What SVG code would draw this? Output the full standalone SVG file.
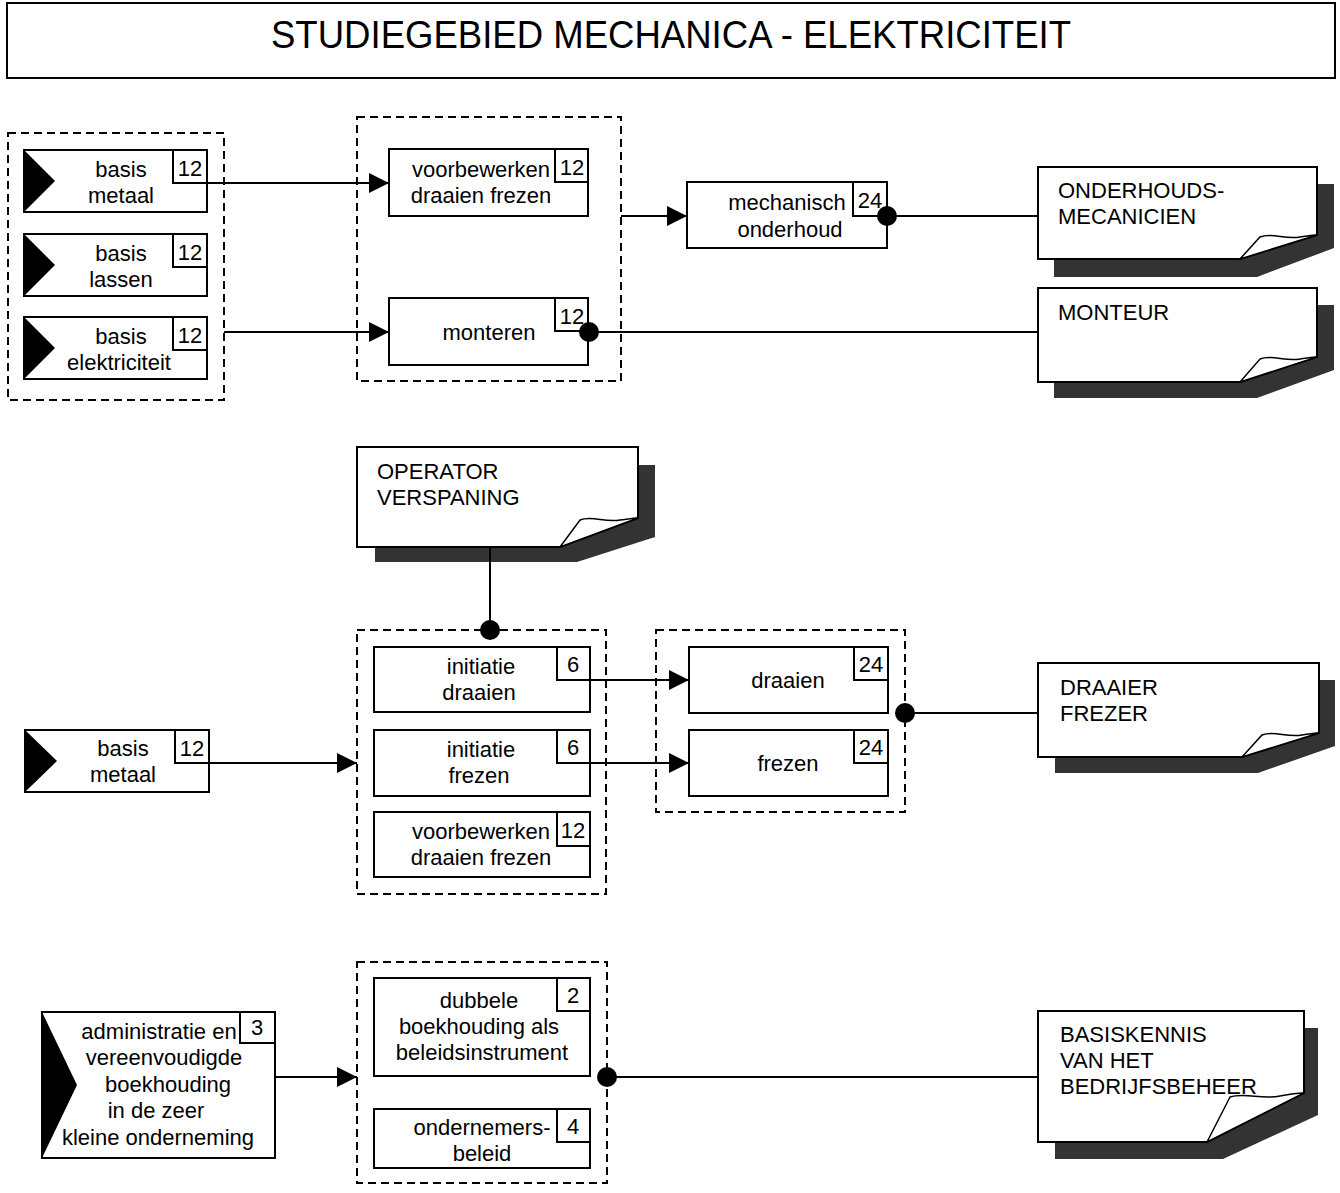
<svg xmlns="http://www.w3.org/2000/svg" width="1340" height="1193" viewBox="0 0 1340 1193">
<defs>
<marker id="arr" viewBox="0 0 20 20" refX="20" refY="10" markerWidth="20" markerHeight="20" markerUnits="userSpaceOnUse" orient="auto"><path d="M0,0 L20,10 L0,20 Z" fill="#000"/></marker>
<style>
text{font-family:"Liberation Sans",Arial,sans-serif;font-size:22px;fill:#000}
.c{text-anchor:middle}
.box{fill:#fff;stroke:#000;stroke-width:2}
.num{fill:#fff;stroke:#000;stroke-width:2}
.grp{fill:none;stroke:#000;stroke-width:2;stroke-dasharray:8 5}
.tri{fill:#000}
.sh{fill:#333}
.doc{fill:#fff;stroke:#000;stroke-width:2}
.curl{fill:#fff;stroke:#000;stroke-width:1.5}
.ln{fill:none;stroke:#000;stroke-width:2}
.dot{fill:#000}
</style>
</defs>
<rect width="1340" height="1193" fill="#fff"/>

<g id="title">
<rect x="7" y="3" width="1328" height="75" fill="#fff" stroke="#000" stroke-width="2"/>
<text x="671" y="48" class="c" style="font-size:38px" textLength="800" lengthAdjust="spacingAndGlyphs">STUDIEGEBIED MECHANICA - ELEKTRICITEIT</text>
</g>

<!-- Section 1 -->
<g id="group1"><rect class="grp" x="8" y="133" width="216" height="267"/></g>
<g id="basis-metaal-1">
<rect class="box" x="24" y="150" width="183" height="62"/>
<polygon class="tri" points="24,150 55,181 24,212"/>
<rect class="num" x="173" y="150" width="34" height="33"/>
<text x="190" y="176" class="c">12</text>
<text x="121" y="177" class="c">basis</text>
<text x="121" y="203" class="c">metaal</text>
</g>
<g id="basis-lassen">
<rect class="box" x="24" y="234" width="183" height="62"/>
<polygon class="tri" points="24,234 55,265 24,296"/>
<rect class="num" x="173" y="234" width="34" height="33"/>
<text x="190" y="260" class="c">12</text>
<text x="121" y="261" class="c">basis</text>
<text x="121" y="287" class="c">lassen</text>
</g>
<g id="basis-elektriciteit">
<rect class="box" x="24" y="317" width="183" height="62"/>
<polygon class="tri" points="24,317 55,348 24,379"/>
<rect class="num" x="173" y="317" width="34" height="33"/>
<text x="190" y="343" class="c">12</text>
<text x="121" y="344" class="c">basis</text>
<text x="119" y="370" class="c">elektriciteit</text>
</g>

<g id="group2"><rect class="grp" x="357" y="117" width="264" height="264"/></g>
<g id="voorbewerken-1">
<rect class="box" x="389" y="149" width="199" height="67"/>
<rect class="num" x="555" y="149" width="33" height="33"/>
<text x="572" y="175" class="c">12</text>
<text x="481" y="177" class="c">voorbewerken</text>
<text x="481" y="203" class="c">draaien frezen</text>
</g>
<g id="monteren">
<rect class="box" x="389" y="298" width="199" height="67"/>
<rect class="num" x="555" y="298" width="33" height="33"/>
<text x="572" y="324" class="c">12</text>
<text x="489" y="340" class="c">monteren</text>
</g>
<g id="mechanisch-onderhoud">
<rect class="box" x="687" y="182" width="200" height="66"/>
<rect class="num" x="853" y="182" width="34" height="34"/>
<text x="870" y="208" class="c">24</text>
<text x="787" y="210" class="c">mechanisch</text>
<text x="790" y="237" class="c">onderhoud</text>
</g>

<g id="doc-onderhoudsmecanicien">
<polygon class="sh" points="1054,184 1334,184 1334,248 1257,277 1054,277"/>
<path class="doc" d="M1038,167 H1317 V235 L1240,259 H1038 Z"/>
<path class="curl" d="M1240,259 L1260,237 C1272,232 1285,240 1300,237 C1308,236 1313,235 1317,235 L1240,259 Z"/>
<text x="1058" y="198">ONDERHOUDS-</text>
<text x="1058" y="224">MECANICIEN</text>
</g>
<g id="doc-monteur">
<polygon class="sh" points="1054,305 1334,305 1334,370 1257,398 1054,398"/>
<path class="doc" d="M1038,288 H1317 V357 L1240,382 H1038 Z"/>
<path class="curl" d="M1240,382 L1260,359 C1272,354 1285,362 1300,359 C1308,358 1313,357 1317,357 L1240,382 Z"/>
<text x="1058" y="320">MONTEUR</text>
</g>

<!-- Section 2 -->
<g id="doc-operator">
<polygon class="sh" points="375,465 655,465 655,537 577,562 375,562"/>
<path class="doc" d="M357,447 H638 V518 L560,547 H357 Z"/>
<path class="curl" d="M560,547 L580,520 C592,515 605,523 620,520 C628,519 633,518 638,518 L560,547 Z"/>
<text x="377" y="479">OPERATOR</text>
<text x="377" y="505">VERSPANING</text>
</g>

<g id="group3"><rect class="grp" x="357" y="630" width="249" height="264"/></g>
<g id="initiatie-draaien">
<rect class="box" x="374" y="647" width="216" height="65"/>
<rect class="num" x="557" y="647" width="33" height="33"/>
<text x="573" y="672" class="c">6</text>
<text x="481" y="674" class="c">initiatie</text>
<text x="479" y="700" class="c">draaien</text>
</g>
<g id="initiatie-frezen">
<rect class="box" x="374" y="730" width="216" height="66"/>
<rect class="num" x="557" y="730" width="33" height="33"/>
<text x="573" y="755" class="c">6</text>
<text x="481" y="757" class="c">initiatie</text>
<text x="479" y="783" class="c">frezen</text>
</g>
<g id="voorbewerken-2">
<rect class="box" x="374" y="812" width="216" height="65"/>
<rect class="num" x="557" y="812" width="33" height="34"/>
<text x="573" y="838" class="c">12</text>
<text x="481" y="839" class="c">voorbewerken</text>
<text x="481" y="865" class="c">draaien frezen</text>
</g>

<g id="group4"><rect class="grp" x="656" y="630" width="249" height="182"/></g>
<g id="draaien">
<rect class="box" x="689" y="647" width="199" height="66"/>
<rect class="num" x="854" y="647" width="34" height="33"/>
<text x="871" y="672" class="c">24</text>
<text x="788" y="688" class="c">draaien</text>
</g>
<g id="frezen">
<rect class="box" x="689" y="730" width="199" height="66"/>
<rect class="num" x="854" y="730" width="34" height="33"/>
<text x="871" y="755" class="c">24</text>
<text x="788" y="771" class="c">frezen</text>
</g>

<g id="basis-metaal-2">
<rect class="box" x="25" y="730" width="184" height="62"/>
<polygon class="tri" points="25,730 57,761 25,792"/>
<rect class="num" x="175" y="730" width="34" height="33"/>
<text x="192" y="756" class="c">12</text>
<text x="123" y="756" class="c">basis</text>
<text x="123" y="782" class="c">metaal</text>
</g>

<g id="doc-draaier-frezer">
<polygon class="sh" points="1055,680 1335,680 1335,746 1258,773 1055,773"/>
<path class="doc" d="M1038,663 H1319 V733 L1242,757 H1038 Z"/>
<path class="curl" d="M1242,757 L1262,735 C1274,730 1287,738 1302,735 C1310,734 1315,733 1319,733 L1242,757 Z"/>
<text x="1060" y="695">DRAAIER</text>
<text x="1060" y="721">FREZER</text>
</g>

<!-- Section 3 -->
<g id="administratie">
<rect class="box" x="42" y="1012" width="233" height="146"/>
<polygon class="tri" points="42,1012 77,1085 42,1158"/>
<rect class="num" x="240" y="1012" width="35" height="31"/>
<text x="257" y="1035" class="c">3</text>
<text x="159" y="1039" class="c">administratie en</text>
<text x="164" y="1065" class="c">vereenvoudigde</text>
<text x="168" y="1092" class="c">boekhouding</text>
<text x="156" y="1118" class="c">in de zeer</text>
<text x="158" y="1145" class="c">kleine onderneming</text>
</g>

<g id="group5"><rect class="grp" x="357" y="962" width="250" height="221"/></g>
<g id="dubbele-boekhouding">
<rect class="box" x="374" y="978" width="216" height="98"/>
<rect class="num" x="557" y="978" width="33" height="33"/>
<text x="573" y="1003" class="c">2</text>
<text x="479" y="1008" class="c">dubbele</text>
<text x="479" y="1034" class="c">boekhouding als</text>
<text x="482" y="1060" class="c">beleidsinstrument</text>
</g>
<g id="ondernemersbeleid">
<rect class="box" x="374" y="1109" width="216" height="59"/>
<rect class="num" x="557" y="1109" width="33" height="33"/>
<text x="573" y="1134" class="c">4</text>
<text x="482" y="1135" class="c">ondernemers-</text>
<text x="482" y="1161" class="c">beleid</text>
</g>

<g id="doc-basiskennis">
<polygon class="sh" points="1055,1028 1318,1028 1318,1115 1223,1159 1055,1159"/>
<path class="doc" d="M1038,1011 H1304 V1093 L1207,1142 H1038 Z"/>
<path class="curl" d="M1207,1142 L1230,1097 C1245,1092 1262,1100 1280,1096 C1290,1094 1298,1093 1304,1093 L1207,1142 Z"/>
<text x="1060" y="1042">BASISKENNIS</text>
<text x="1060" y="1068">VAN HET</text>
<text x="1060" y="1094">BEDRIJFSBEHEER</text>
</g>

<g id="connectors">
<line class="ln" x1="207" y1="183" x2="389" y2="183" marker-end="url(#arr)"/>
<line class="ln" x1="224" y1="332" x2="389" y2="332" marker-end="url(#arr)"/>
<line class="ln" x1="621" y1="216" x2="687" y2="216" marker-end="url(#arr)"/>
<line class="ln" x1="887" y1="216" x2="1038" y2="216"/>
<circle class="dot" cx="887" cy="216" r="10"/>
<line class="ln" x1="589" y1="332" x2="1038" y2="332"/>
<circle class="dot" cx="589" cy="332" r="10"/>
<line class="ln" x1="490" y1="547" x2="490" y2="630"/>
<circle class="dot" cx="490" cy="630" r="10"/>
<line class="ln" x1="209" y1="763" x2="357" y2="763" marker-end="url(#arr)"/>
<line class="ln" x1="590" y1="680" x2="689" y2="680" marker-end="url(#arr)"/>
<line class="ln" x1="590" y1="763" x2="689" y2="763" marker-end="url(#arr)"/>
<line class="ln" x1="905" y1="713" x2="1038" y2="713"/>
<circle class="dot" cx="905" cy="713" r="10"/>
<line class="ln" x1="275" y1="1077" x2="357" y2="1077" marker-end="url(#arr)"/>
<line class="ln" x1="607" y1="1077" x2="1038" y2="1077"/>
<circle class="dot" cx="607" cy="1077" r="10"/>
</g>
</svg>
